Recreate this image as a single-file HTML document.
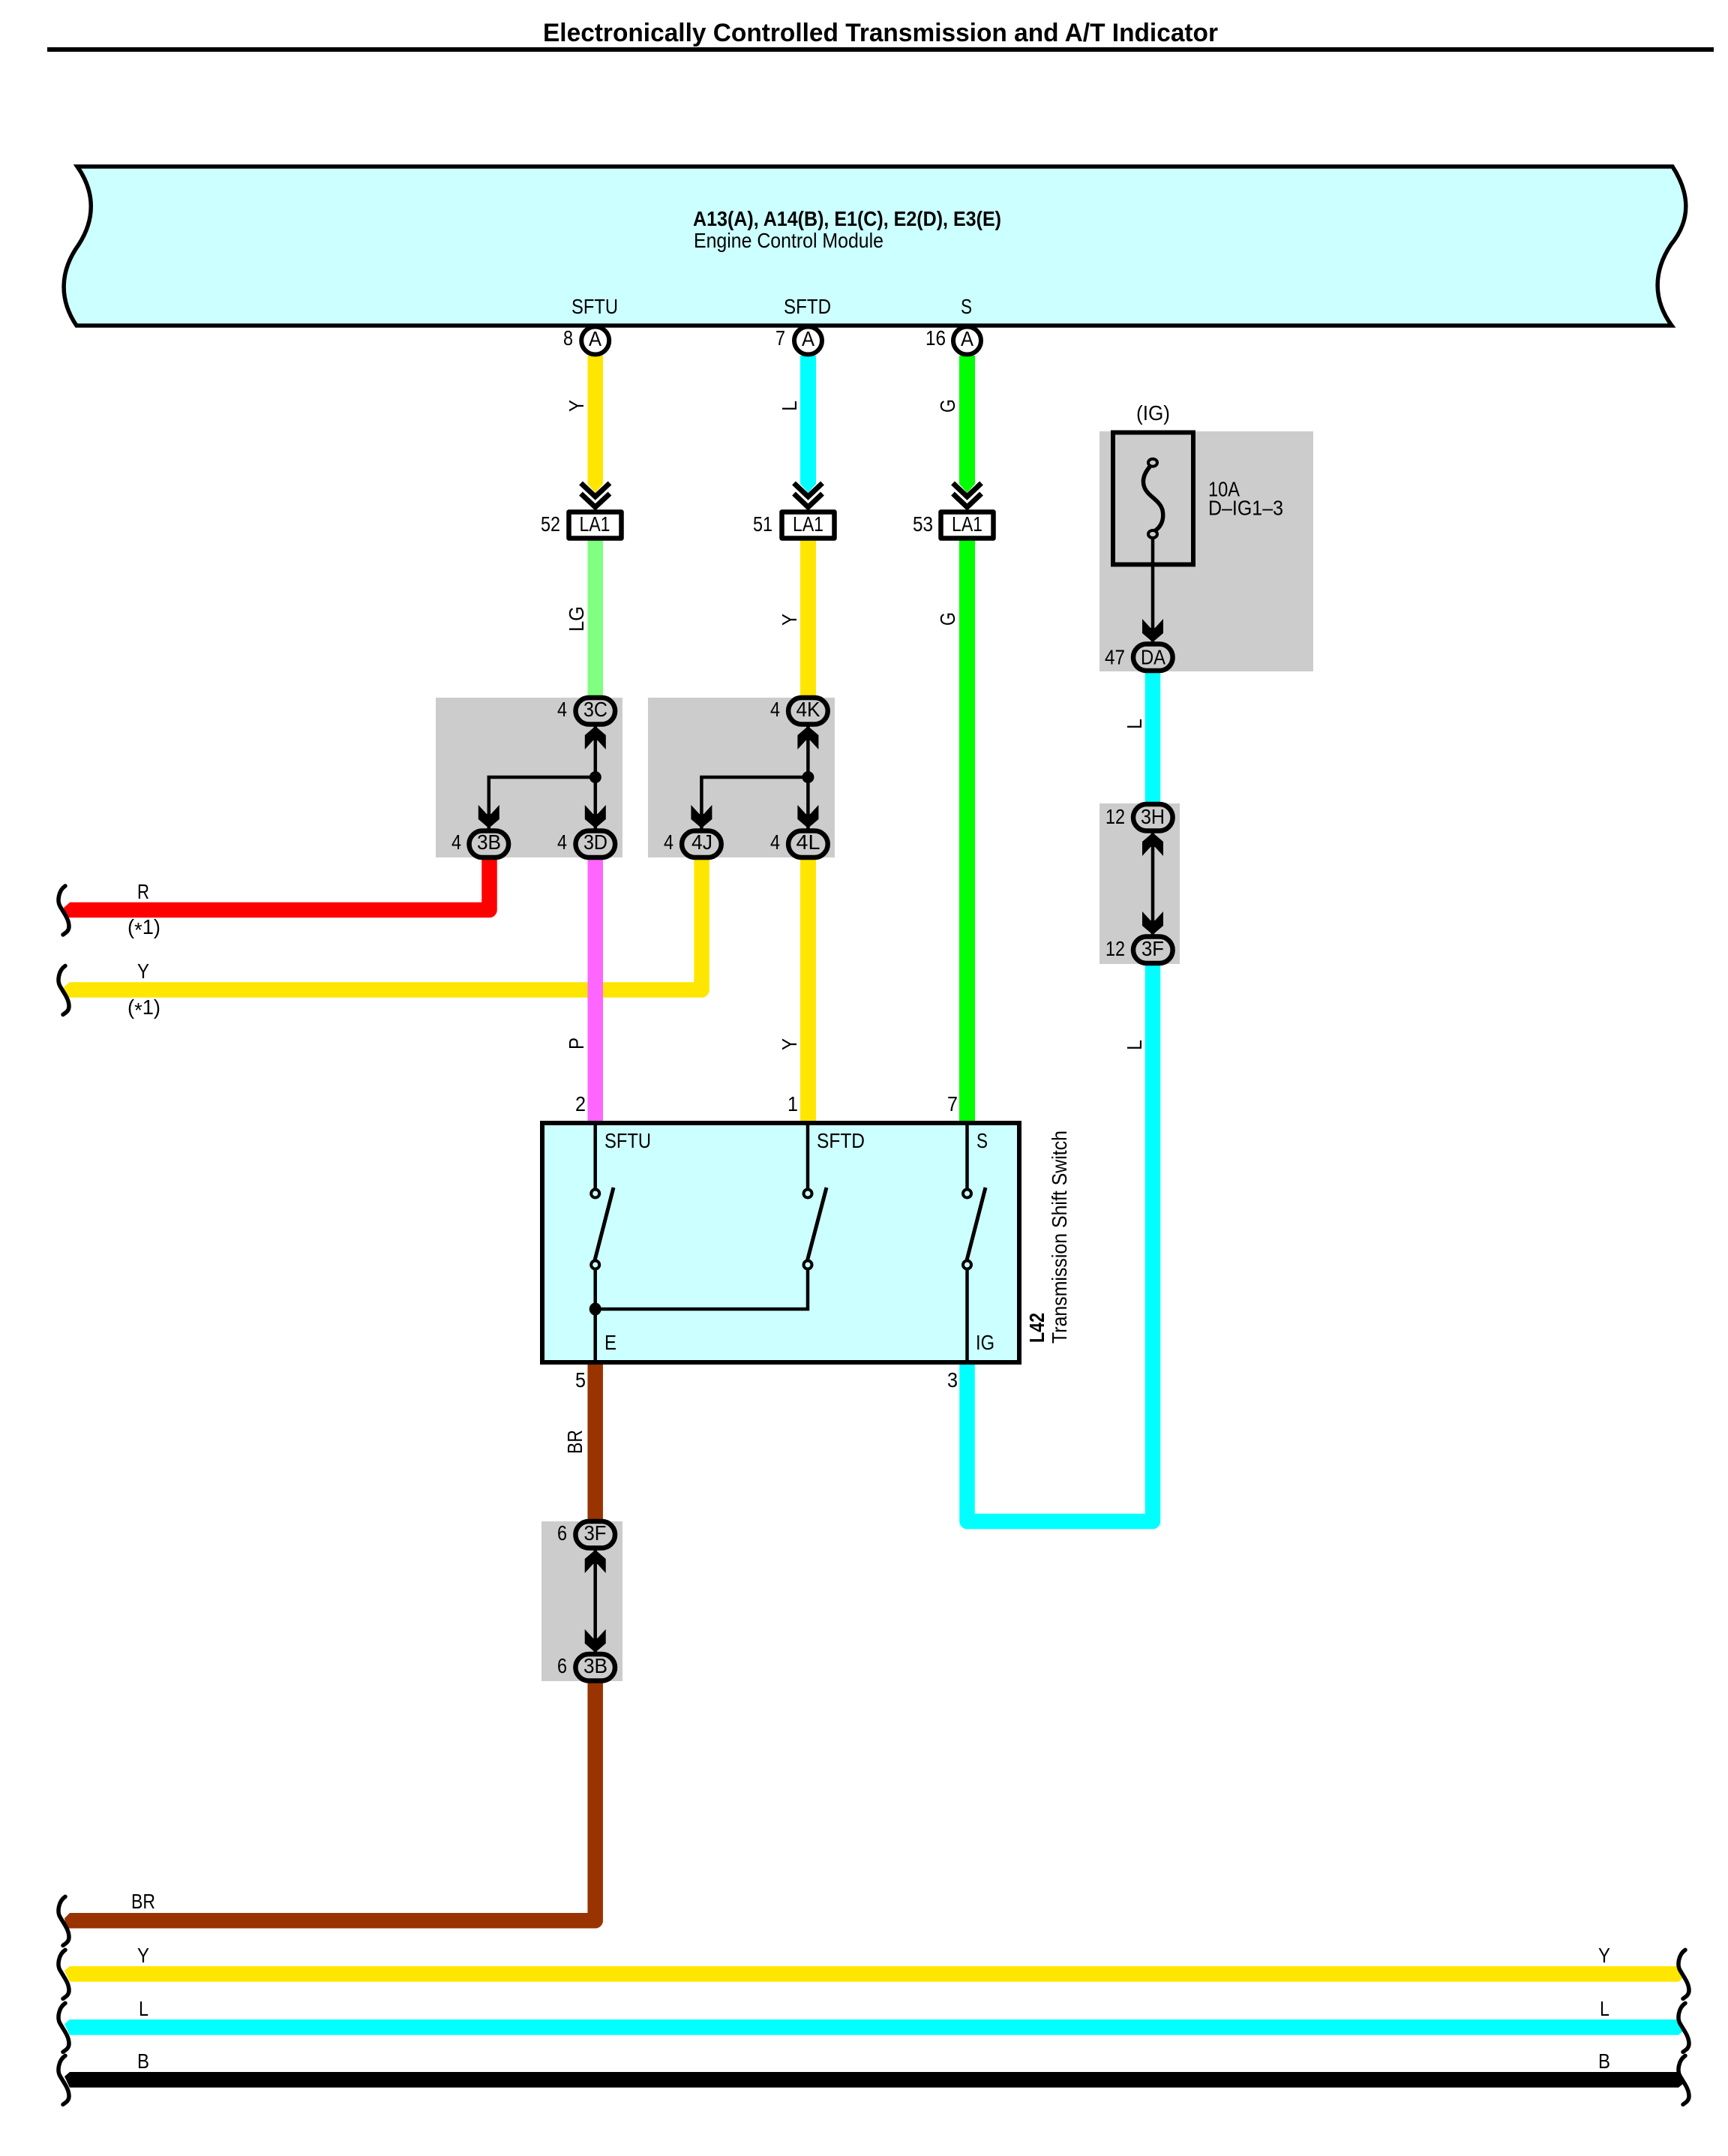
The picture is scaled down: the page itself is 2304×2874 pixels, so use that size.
<!DOCTYPE html>
<html>
<head>
<meta charset="utf-8">
<title>Electronically Controlled Transmission and A/T Indicator</title>
<style>
html,body{margin:0;padding:0;background:#fff;}
svg{display:block;}
text{font-family:"Liberation Sans",sans-serif;font-size:28px;fill:#000;}
.b{font-weight:bold;}
.w{fill:none;stroke-width:20.5;stroke-linejoin:round;}
.k{fill:none;stroke:#000;stroke-width:4.5;}
.sq{fill:none;stroke:#000;stroke-width:5.5;stroke-linecap:round;}
.ch{fill:none;stroke:#000;stroke-width:7;}
.ov{fill:#ccc;stroke:#000;stroke-width:6.5;}
.box{fill:#fff;stroke:#000;stroke-width:6.5;stroke-linejoin:round;}
.pin{fill:#fff;stroke:#000;stroke-width:6;}
.sw{fill:#CCFFFF;stroke:#000;stroke-width:4;}
</style>
</head>
<body>
<svg xmlns="http://www.w3.org/2000/svg" width="2304" height="2874" viewBox="0 0 2304 2874">
<defs>
<polygon id="ad" points="0,0 14,-12 14,-31 3,-19 -3,-19 -14,-31 -14,-12" fill="#000"/>
<polygon id="au" points="0,0 14,12 14,31 3,19 -3,19 -14,31 -14,12" fill="#000"/>
<path id="br" class="sq" d="M87,-32 C78,-26 76,-12 80,-5 C85,4 92,12 92,22 C92,28 88,30 84,33"/>
</defs>
<rect width="2304" height="2874" fill="#fff"/>

<!-- Title -->
<text class="b" x="724" y="55" style="font-size:34px" textLength="900" lengthAdjust="spacingAndGlyphs">Electronically Controlled Transmission and A/T Indicator</text>
<rect x="63" y="63" width="2222" height="6" fill="#000"/>

<!-- ECM -->
<path d="M103,222 L2230,222 C2252,256 2256,292 2228,326 C2204,362 2204,400 2229,434 L102,434 C79,400 79,362 105,326 C127,292 127,256 103,222 Z" fill="#CCFFFF" stroke="#000" stroke-width="5.5"/>
<text class="b" x="924" y="301" textLength="411" lengthAdjust="spacingAndGlyphs">A13(A), A14(B), E1(C), E2(D), E3(E)</text>
<text x="925" y="330" textLength="253" lengthAdjust="spacingAndGlyphs">Engine Control Module</text>
<text x="762" y="418" textLength="62" lengthAdjust="spacingAndGlyphs">SFTU</text>
<text x="1045" y="418" textLength="63" lengthAdjust="spacingAndGlyphs">SFTD</text>
<text x="1281" y="418" textLength="15" lengthAdjust="spacingAndGlyphs">S</text>

<!-- Gray blocks -->
<g fill="#ccc">
<rect x="581" y="930" width="249" height="213"/>
<rect x="864" y="930" width="249" height="213"/>
<rect x="1466" y="575" width="285" height="320"/>
<rect x="1466" y="1071" width="107" height="214"/>
<rect x="722" y="2028" width="108" height="213"/>
</g>

<!-- Upper wires -->
<polygon points="783.5,474 804,474 804,645 793.7,657 783.5,645" fill="#FFE600"/>
<polygon points="1067,474 1088,474 1088,645 1077.5,657 1067,645" fill="#00FFFF"/>
<polygon points="1279,474 1300,474 1300,645 1289.5,657 1279,645" fill="#00FF00"/>
<rect x="783.5" y="720" width="20.5" height="210" fill="#80FF80"/>
<rect x="1067" y="720" width="21" height="210" fill="#FFE600"/>
<rect x="1279" y="720" width="21" height="780" fill="#00FF00"/>

<!-- Lower wires -->
<path class="w" stroke="#FF0000" d="M93,1213 L652.5,1213 L652.5,1143"/>
<polygon points="85,1210 93,1203 93,1223 88,1223" fill="#FF0000"/>
<path class="w" stroke="#FFE600" d="M93,1319.5 L935.6,1319.5 L935.6,1143"/>
<polygon points="85,1316 93,1309 93,1330 88,1330" fill="#FFE600"/>
<rect x="783.5" y="1143" width="20.5" height="357" fill="#FF66FF"/>
<rect x="1067" y="1143" width="21" height="357" fill="#FFE600"/>
<path class="w" stroke="#00FFFF" d="M1537,895 L1537,1072"/>
<path class="w" stroke="#00FFFF" d="M1289.5,1815 L1289.5,2028 L1537,2028 L1537,1284"/>
<path class="w" stroke="#993300" d="M793.7,1815 L793.7,2028"/>
<path class="w" stroke="#993300" d="M793.7,2240 L793.7,2560.3 L93,2560.3"/>
<polygon points="86,2557 93,2550 93,2570.6 88,2570.6" fill="#993300"/>
<g>
<rect x="93" y="2621" width="2145" height="20.7" fill="#FFE600"/>
<polygon points="93,2621 86,2627 93,2641.7" fill="#FFE600"/>
<polygon points="2238,2621 2245,2636 2238,2641.7" fill="#FFE600"/>
<rect x="93" y="2692" width="2145" height="20.7" fill="#00FFFF"/>
<polygon points="93,2692 86,2698 93,2712.7" fill="#00FFFF"/>
<polygon points="2238,2692 2245,2707 2238,2712.7" fill="#00FFFF"/>
<rect x="93" y="2762" width="2145" height="20.7" fill="#000"/>
<polygon points="93,2762 86,2768 93,2782.7" fill="#000"/>
<polygon points="2238,2762 2245,2777 2238,2782.7" fill="#000"/>
</g>

<!-- Brackets -->
<use href="#br" x="0" y="1213"/>
<use href="#br" x="0" y="1319.5"/>
<use href="#br" x="0" y="2560.3"/>
<use href="#br" x="0" y="2631.3"/>
<use href="#br" x="0" y="2702.3"/>
<use href="#br" x="0" y="2772.3"/>
<use href="#br" x="2160" y="2631.3"/>
<use href="#br" x="2160" y="2702.3"/>
<use href="#br" x="2160" y="2772.3"/>

<!-- Pins on ECM -->
<circle class="pin" cx="793.7" cy="454" r="18.5"/>
<circle class="pin" cx="1077.5" cy="454" r="18.5"/>
<circle class="pin" cx="1289.5" cy="454" r="18.5"/>
<text x="785" y="461" textLength="17" lengthAdjust="spacingAndGlyphs">A</text>
<text x="1069" y="461" textLength="17" lengthAdjust="spacingAndGlyphs">A</text>
<text x="1281" y="461" textLength="17" lengthAdjust="spacingAndGlyphs">A</text>
<text x="751" y="460" textLength="13" lengthAdjust="spacingAndGlyphs">8</text>
<text x="1034" y="460" textLength="13" lengthAdjust="spacingAndGlyphs">7</text>
<text x="1234" y="460" textLength="27" lengthAdjust="spacingAndGlyphs">16</text>

<!-- Chevrons -->
<g class="ch">
<polyline class="ch" points="774.5,644 793.7,662 813,644"/>
<polyline class="ch" points="774.5,658 793.7,676 813,658"/>
<polyline class="ch" points="1058.5,644 1077.5,662 1096.5,644"/>
<polyline class="ch" points="1058.5,658 1077.5,676 1096.5,658"/>
<polyline class="ch" points="1270.5,644 1289.5,662 1308.5,644"/>
<polyline class="ch" points="1270.5,658 1289.5,676 1308.5,658"/>
</g>

<!-- LA1 boxes -->
<rect class="box" x="758.5" y="682.5" width="70" height="35"/>
<rect class="box" x="1042.5" y="682.5" width="70" height="35"/>
<rect class="box" x="1254.5" y="682.5" width="70" height="35"/>
<text x="772.5" y="708" textLength="41" lengthAdjust="spacingAndGlyphs">LA1</text>
<text x="1057" y="708" textLength="41" lengthAdjust="spacingAndGlyphs">LA1</text>
<text x="1269" y="708" textLength="41" lengthAdjust="spacingAndGlyphs">LA1</text>
<text x="721" y="708" textLength="26" lengthAdjust="spacingAndGlyphs">52</text>
<text x="1004" y="708" textLength="26" lengthAdjust="spacingAndGlyphs">51</text>
<text x="1217" y="708" textLength="27" lengthAdjust="spacingAndGlyphs">53</text>

<!-- Junction blocks: inner wiring -->
<path class="k" d="M793.8,968 L793.8,1105 M793.8,1036 L651.8,1036 L651.8,1105"/>
<circle cx="793.8" cy="1036" r="8"/>
<use href="#au" x="793.8" y="968"/>
<use href="#ad" x="793.8" y="1104"/>
<use href="#ad" x="651.8" y="1104"/>
<path class="k" d="M1077.4,968 L1077.4,1105 M1077.4,1036 L935.4,1036 L935.4,1105"/>
<circle cx="1077.4" cy="1036" r="8"/>
<use href="#au" x="1077.4" y="968"/>
<use href="#ad" x="1077.4" y="1104"/>
<use href="#ad" x="935.4" y="1104"/>

<g>
<rect class="ov" x="767.5" y="930" width="52.6" height="35.5" rx="17.7"/>
<rect class="ov" x="767.5" y="1107.5" width="52.6" height="35.5" rx="17.7"/>
<rect class="ov" x="625.5" y="1107.5" width="52.6" height="35.5" rx="17.7"/>
<rect class="ov" x="1051.1" y="930" width="52.6" height="35.5" rx="17.7"/>
<rect class="ov" x="1051.1" y="1107.5" width="52.6" height="35.5" rx="17.7"/>
<rect class="ov" x="909.1" y="1107.5" width="52.6" height="35.5" rx="17.7"/>
</g>
<text x="778" y="955" textLength="32" lengthAdjust="spacingAndGlyphs">3C</text>
<text x="778" y="1132" textLength="32" lengthAdjust="spacingAndGlyphs">3D</text>
<text x="636" y="1132" textLength="32" lengthAdjust="spacingAndGlyphs">3B</text>
<text x="1061.5" y="955" textLength="32" lengthAdjust="spacingAndGlyphs">4K</text>
<text x="1061.5" y="1132" textLength="32" lengthAdjust="spacingAndGlyphs">4L</text>
<text x="922" y="1132" textLength="28" lengthAdjust="spacingAndGlyphs">4J</text>
<text x="743" y="955" textLength="13" lengthAdjust="spacingAndGlyphs">4</text>
<text x="743" y="1132" textLength="13" lengthAdjust="spacingAndGlyphs">4</text>
<text x="602" y="1132" textLength="13" lengthAdjust="spacingAndGlyphs">4</text>
<text x="1027" y="955" textLength="13" lengthAdjust="spacingAndGlyphs">4</text>
<text x="1027" y="1132" textLength="13" lengthAdjust="spacingAndGlyphs">4</text>
<text x="885" y="1132" textLength="13" lengthAdjust="spacingAndGlyphs">4</text>

<!-- Fuse block -->
<rect x="1484" y="576.5" width="107" height="176" fill="none" stroke="#000" stroke-width="6"/>
<path d="M1534,621 C1526,630 1522,640 1526,650 C1531,662 1546,666 1550,680 C1553,695 1546,704 1539,708" fill="none" stroke="#000" stroke-width="5.5"/>
<ellipse cx="1537" cy="616.7" rx="6" ry="5" fill="#ccc" stroke="#000" stroke-width="4"/>
<ellipse cx="1537" cy="712" rx="6" ry="5" fill="#ccc" stroke="#000" stroke-width="4"/>
<path class="k" d="M1537,717 L1537,856"/>
<use href="#ad" x="1537" y="856"/>
<rect class="ov" x="1511" y="858.5" width="52.6" height="35.5" rx="17.7"/>
<text x="1521" y="885.5" textLength="33" lengthAdjust="spacingAndGlyphs">DA</text>
<text x="1473" y="885.5" textLength="27" lengthAdjust="spacingAndGlyphs">47</text>
<text x="1515" y="560" textLength="45" lengthAdjust="spacingAndGlyphs">(IG)</text>
<text x="1611" y="661.5" textLength="42" lengthAdjust="spacingAndGlyphs">10A</text>
<text x="1611" y="686.5" textLength="100" lengthAdjust="spacingAndGlyphs">D–IG1–3</text>

<!-- 3H/3F right -->
<path class="k" d="M1537,1110 L1537,1246"/>
<use href="#au" x="1537" y="1110"/>
<use href="#ad" x="1537" y="1246"/>
<rect class="ov" x="1511" y="1072" width="52.6" height="35.5" rx="17.7"/>
<rect class="ov" x="1511" y="1248.5" width="52.6" height="35.5" rx="17.7"/>
<text x="1521" y="1098" textLength="32" lengthAdjust="spacingAndGlyphs">3H</text>
<text x="1522" y="1274" textLength="30" lengthAdjust="spacingAndGlyphs">3F</text>
<text x="1474" y="1098" textLength="26" lengthAdjust="spacingAndGlyphs">12</text>
<text x="1474" y="1274" textLength="26" lengthAdjust="spacingAndGlyphs">12</text>

<!-- 3F/3B lower -->
<path class="k" d="M793.7,2066 L793.7,2203"/>
<use href="#au" x="793.7" y="2066"/>
<use href="#ad" x="793.7" y="2202.7"/>
<rect class="ov" x="767.4" y="2028" width="52.6" height="35.5" rx="17.7"/>
<rect class="ov" x="767.4" y="2205" width="52.6" height="35.5" rx="17.7"/>
<text x="778.5" y="2053" textLength="30" lengthAdjust="spacingAndGlyphs">3F</text>
<text x="778" y="2230" textLength="32" lengthAdjust="spacingAndGlyphs">3B</text>
<text x="743" y="2053" textLength="13" lengthAdjust="spacingAndGlyphs">6</text>
<text x="743" y="2230" textLength="13" lengthAdjust="spacingAndGlyphs">6</text>

<!-- Switch -->
<rect x="723" y="1497" width="636" height="319" fill="#CCFFFF" stroke="#000" stroke-width="6"/>
<rect x="783.5" y="1480" width="20.5" height="14" fill="#FF66FF"/>
<rect x="1067" y="1480" width="21" height="14" fill="#FFE600"/>
<rect x="1279" y="1480" width="21" height="14" fill="#00FF00"/>
<path class="k" d="M793.7,1497 L793.7,1586 M793.7,1691 L793.7,1816 M793.7,1745 L1077,1745 L1077,1691 M1077,1497 L1077,1586 M1289.5,1497 L1289.5,1586 M1289.5,1691 L1289.5,1816"/>
<path d="M793,1680 L818,1583 M1076.5,1680 L1102,1583 M1289,1680 L1314,1583" fill="none" stroke="#000" stroke-width="5"/>
<ellipse class="sw" cx="793.7" cy="1591" rx="5.5" ry="5.5"/>
<ellipse class="sw" cx="793.7" cy="1686" rx="5.5" ry="5.5"/>
<ellipse class="sw" cx="1077" cy="1591" rx="5.5" ry="5.5"/>
<ellipse class="sw" cx="1077" cy="1686" rx="5.5" ry="5.5"/>
<ellipse class="sw" cx="1289.5" cy="1591" rx="5.5" ry="5.5"/>
<ellipse class="sw" cx="1289.5" cy="1686" rx="5.5" ry="5.5"/>
<ellipse cx="793.7" cy="1745" rx="8" ry="8.5"/>
<text x="806" y="1530" textLength="62" lengthAdjust="spacingAndGlyphs">SFTU</text>
<text x="1089" y="1530" textLength="64" lengthAdjust="spacingAndGlyphs">SFTD</text>
<text x="1302" y="1530" textLength="15" lengthAdjust="spacingAndGlyphs">S</text>
<text x="806" y="1799" textLength="16" lengthAdjust="spacingAndGlyphs">E</text>
<text x="1301" y="1799" textLength="25" lengthAdjust="spacingAndGlyphs">IG</text>
<text x="767" y="1481" textLength="14" lengthAdjust="spacingAndGlyphs">2</text>
<text x="1050" y="1481" textLength="14" lengthAdjust="spacingAndGlyphs">1</text>
<text x="1263" y="1481" textLength="14" lengthAdjust="spacingAndGlyphs">7</text>
<text x="767" y="1849" textLength="14" lengthAdjust="spacingAndGlyphs">5</text>
<text x="1263" y="1849" textLength="14" lengthAdjust="spacingAndGlyphs">3</text>
<text class="b" transform="translate(1392,1790) rotate(-90)" textLength="40" lengthAdjust="spacingAndGlyphs">L42</text>
<text transform="translate(1422,1791) rotate(-90)" textLength="284" lengthAdjust="spacingAndGlyphs">Transmission Shift Switch</text>

<!-- Rotated wire labels -->
<text transform="translate(778,549) rotate(-90)" textLength="16" lengthAdjust="spacingAndGlyphs">Y</text>
<text transform="translate(1062,548) rotate(-90)" textLength="14" lengthAdjust="spacingAndGlyphs">L</text>
<text transform="translate(1273,550) rotate(-90)" textLength="18" lengthAdjust="spacingAndGlyphs">G</text>
<text transform="translate(778,842) rotate(-90)" textLength="34" lengthAdjust="spacingAndGlyphs">LG</text>
<text transform="translate(1062,834) rotate(-90)" textLength="16" lengthAdjust="spacingAndGlyphs">Y</text>
<text transform="translate(1273,834) rotate(-90)" textLength="18" lengthAdjust="spacingAndGlyphs">G</text>
<text transform="translate(1522,972) rotate(-90)" textLength="14" lengthAdjust="spacingAndGlyphs">L</text>
<text transform="translate(778,1399) rotate(-90)" textLength="16" lengthAdjust="spacingAndGlyphs">P</text>
<text transform="translate(1062,1400) rotate(-90)" textLength="16" lengthAdjust="spacingAndGlyphs">Y</text>
<text transform="translate(1522,1400) rotate(-90)" textLength="14" lengthAdjust="spacingAndGlyphs">L</text>
<text transform="translate(776,1938) rotate(-90)" textLength="32" lengthAdjust="spacingAndGlyphs">BR</text>

<!-- Horizontal wire labels -->
<text x="183" y="1198" textLength="16" lengthAdjust="spacingAndGlyphs">R</text>
<text x="170" y="1245" textLength="44" lengthAdjust="spacingAndGlyphs">(<tspan dy="4">*</tspan><tspan dy="-4">1)</tspan></text>
<text x="183" y="1304" textLength="16" lengthAdjust="spacingAndGlyphs">Y</text>
<text x="170" y="1352" textLength="44" lengthAdjust="spacingAndGlyphs">(<tspan dy="4">*</tspan><tspan dy="-4">1)</tspan></text>
<text x="175" y="2544" textLength="32" lengthAdjust="spacingAndGlyphs">BR</text>
<text x="183" y="2616" textLength="16" lengthAdjust="spacingAndGlyphs">Y</text>
<text x="185" y="2687" textLength="13" lengthAdjust="spacingAndGlyphs">L</text>
<text x="183" y="2757" textLength="16" lengthAdjust="spacingAndGlyphs">B</text>
<text x="2131" y="2616" textLength="16" lengthAdjust="spacingAndGlyphs">Y</text>
<text x="2133" y="2687" textLength="13" lengthAdjust="spacingAndGlyphs">L</text>
<text x="2131" y="2757" textLength="16" lengthAdjust="spacingAndGlyphs">B</text>
</svg>
</body>
</html>
